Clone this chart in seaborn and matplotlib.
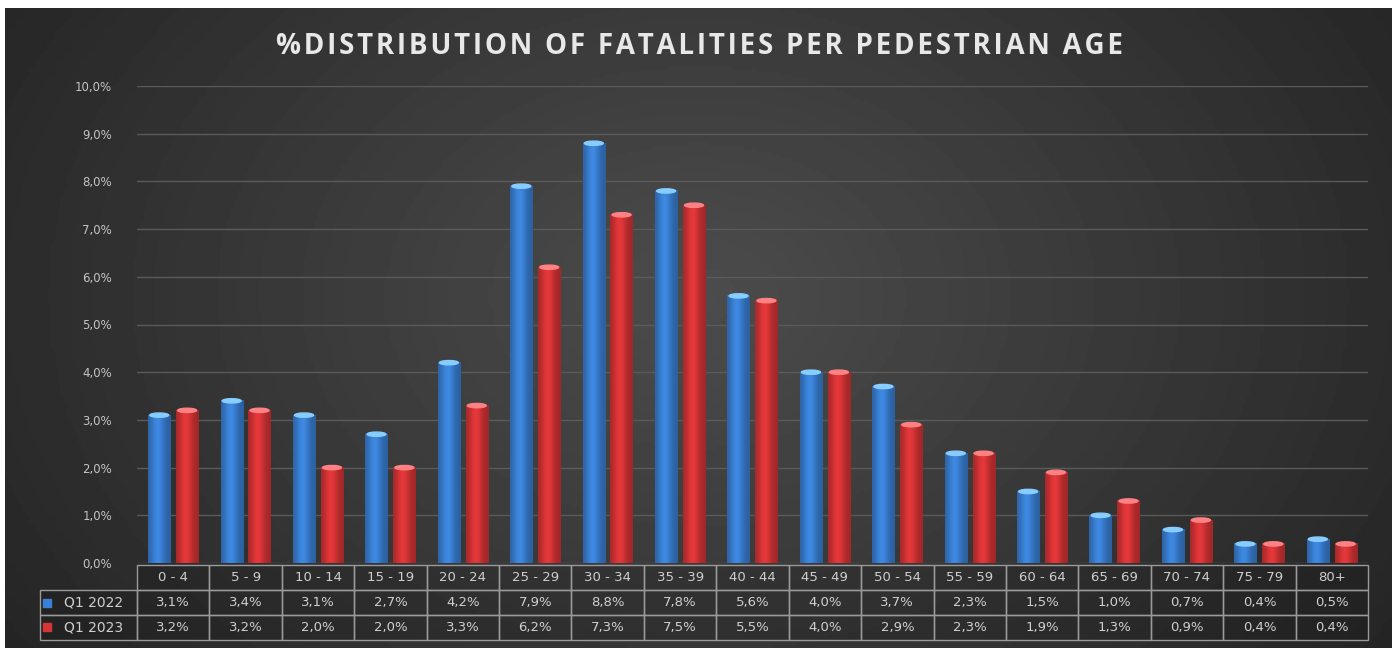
import numpy as np
import matplotlib
matplotlib.use("Agg")
import matplotlib.pyplot as plt
import matplotlib.colors as mcolors
from matplotlib.patches import Ellipse
import pandas as pd
import seaborn as sns

# data
age_groups = ["0 - 4", "5 - 9", "10 - 14", "15 - 19", "20 - 24", "25 - 29", "30 - 34",
              "35 - 39", "40 - 44", "45 - 49", "50 - 54", "55 - 59", "60 - 64",
              "65 - 69", "70 - 74", "75 - 79", "80+"]
q1_2022 = [3.1, 3.4, 3.1, 2.7, 4.2, 7.9, 8.8, 7.8, 5.6, 4.0, 3.7, 2.3, 1.5, 1.0, 0.7, 0.4, 0.5]
q1_2023 = [3.2, 3.2, 2.0, 2.0, 3.3, 6.2, 7.3, 7.5, 5.5, 4.0, 2.9, 2.3, 1.9, 1.3, 0.9, 0.4, 0.4]
series = ["Q1 2022", "Q1 2023"]
colors = ["#3a80d4", "#d63436"]
title = "%DISTRIBUTION OF FATALITIES PER PEDESTRIAN AGE"

df = pd.DataFrame({
    "age": age_groups * 2,
    "value": q1_2022 + q1_2023,
    "series": [series[0]] * len(age_groups) + [series[1]] * len(age_groups),
})


def pct(v):
    return f"{v:.1f}%".replace(".", ",")


sns.set_style("dark")
plt.rcParams["font.family"] = ["DejaVu Sans"]

fig = plt.figure(figsize=(13.99, 6.48), dpi=100)
fig.patch.set_facecolor("white")

# dark radial background (slide style), leaving thin white margins
bg = fig.add_axes([5 / 1399, 0, 1387 / 1399, 640 / 648])
yy, xx = np.mgrid[0:1:200j, 0:1:400j]
r = np.sqrt(((xx - 0.5) * 1.6) ** 2 + ((yy - 0.45) * 1.0) ** 2)
shade = np.clip(0.30 - 0.16 * r, 0.14, 0.30)
bg.imshow(shade, cmap="gray", vmin=0, vmax=1, aspect="auto", extent=[0, 1, 0, 1])
bg.set_axis_off()

ax = fig.add_axes([137 / 1399, 1 - 563 / 648, 1231 / 1399, 477 / 648])
ax.patch.set_alpha(0)
sns.barplot(data=df, x="age", y="value", hue="series", palette=colors,
            width=0.77, gap=0.2, legend=False, ax=ax, saturation=1,
            edgecolor="none")

# cylinder look: horizontal shading over each bar plus a light top cap
prof = np.linspace(-1, 1, 40)
light = 0.75 + 0.32 * np.exp(-((prof + 0.15) / 0.6) ** 2)
for patch in list(ax.patches):
    x0, w, h = patch.get_x(), patch.get_width(), patch.get_height()
    if h <= 0:
        continue
    base = np.array(mcolors.to_rgb(patch.get_facecolor()))
    img = np.clip(base[None, None, :] * light[None, :, None], 0, 1)
    ax.imshow(img, extent=[x0, x0 + w, 0, h], aspect="auto", zorder=2,
              interpolation="bilinear")
    cap = np.clip(base + 0.3, 0, 1)
    ax.add_patch(Ellipse((x0 + w / 2, h), w * 0.85, 0.09, color=cap, zorder=3))

ax.set_ylim(0, 10)
ax.set_xlim(-0.5, len(age_groups) - 0.5)
ax.set_yticks(np.arange(0, 11, 1))
ax.set_yticklabels([pct(v) for v in np.arange(0, 11, 1)], color="#c4c4c4", fontsize=8.5)
ax.tick_params(axis="y", length=0, pad=18)
ax.set_xticks([])
ax.set_xlabel("")
ax.set_ylabel("")
ax.grid(axis="y", color="#5a5a5a", linewidth=1)
ax.set_axisbelow(True)
for s in ax.spines.values():
    s.set_visible(False)

# data table below the bars
cell_text = [[pct(v) for v in q1_2022], [pct(v) for v in q1_2023]]
tbl = ax.table(cellText=cell_text, colLabels=age_groups,
               cellLoc="center", colWidths=[1 / 17] * 17,
               bbox=[0, -0.161, 1, 0.157])
row_h = tbl[1, 0].get_height()
for i, name in enumerate(series, start=1):
    tbl.add_cell(i, -1, 97 / 1231, row_h, text=name + " ", loc="right")
tbl.auto_set_font_size(False)
tbl.set_fontsize(9.5)
for (row, col), cell in tbl.get_celld().items():
    cell.set_edgecolor("#9a9a9a")
    cell.set_linewidth(1)
    cell.set_facecolor((0, 0, 0, 0.12))
    cell.get_text().set_color("#cfcfcf")
    if col == -1:
        cell.get_text().set_fontsize(10)

for y, c in zip([-0.083, -0.135], colors):
    ax.plot([-0.073], [y], marker="s", markersize=5.5, color=c,
            transform=ax.transAxes, clip_on=False)

spaced = "\u200a".join(title)
fig.text(0.5, 1 - 46 / 648, spaced, ha="center", va="center", fontsize=20,
         fontweight="bold", color="#e8e8e8", family=["Open Sans", "DejaVu Sans"])

fig.savefig("out.png", dpi=100)
